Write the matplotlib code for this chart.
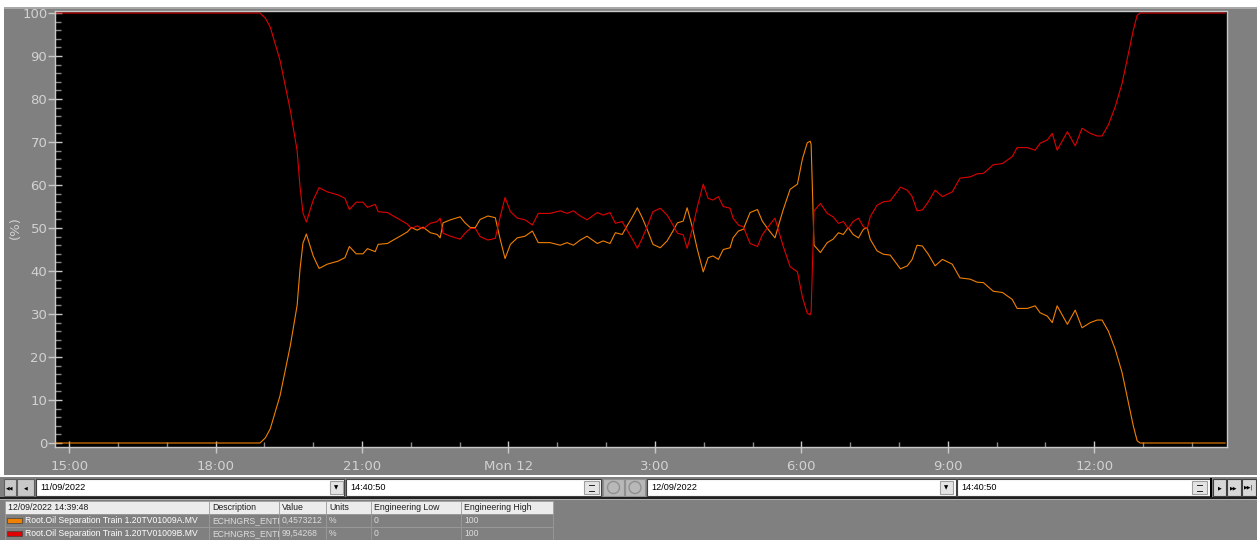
import matplotlib
matplotlib.use('Agg')
import matplotlib.pyplot as plt
from matplotlib.patches import Rectangle, Circle
from matplotlib.ticker import MultipleLocator, FixedLocator

plt.rcParams['font.family'] = ['DejaVu Sans']

W, H = 1257, 540

# trend samples, time in hours from 11/09/2022 00:00
hours = [14.68, 18.91, 19.02, 19.12, 19.32, 19.53, 19.67, 19.73, 19.79, 19.86,
         20.00, 20.12, 20.29, 20.51, 20.65, 20.74, 20.88, 21.02, 21.11, 21.27,
         21.33, 21.52, 21.64, 21.78, 21.93, 22.01, 22.13, 22.25, 22.40, 22.54,
         22.60, 22.66, 22.81, 23.01, 23.11, 23.22, 23.32, 23.42, 23.58, 23.73,
         23.83, 23.93, 24.04, 24.18, 24.34, 24.49, 24.61, 24.85, 25.06, 25.20,
         25.33, 25.47, 25.61, 25.82, 25.94, 26.08, 26.19, 26.33, 26.43, 26.53,
         26.64, 26.74, 26.84, 26.96, 27.11, 27.25, 27.37, 27.46, 27.58, 27.66,
         27.76, 27.87, 27.99, 28.09, 28.19, 28.30, 28.40, 28.54, 28.60, 28.71,
         28.81, 28.95, 29.10, 29.20, 29.32, 29.46, 29.53, 29.63, 29.77, 29.92,
         30.02, 30.12, 30.18, 30.20, 30.26, 30.39, 30.53, 30.65, 30.76, 30.86,
         30.96, 31.06, 31.17, 31.27, 31.35, 31.41, 31.55, 31.68, 31.82, 32.03,
         32.17, 32.27, 32.37, 32.48, 32.60, 32.74, 32.89, 33.09, 33.25, 33.46,
         33.60, 33.73, 33.93, 34.12, 34.32, 34.42, 34.63, 34.79, 34.89, 35.04,
         35.14, 35.24, 35.45, 35.61, 35.75, 35.92, 36.06, 36.16, 36.29, 36.43,
         36.57, 36.70, 36.80, 36.88, 36.94, 38.68]

# 1.20TV01009A.MV (%)
valve_a = [0, 0, 1.2, 3.3, 11, 22.6, 32, 40.5, 46.5, 48.6,
           43.5, 40.6, 41.6, 42.3, 43.1, 45.7, 44, 44, 45.2, 44.5,
           46.2, 46.4, 47.2, 48.1, 49.1, 50.1, 49.5, 50.2, 48.9, 48.5,
           47.7, 51.2, 51.9, 52.6, 51.2, 50.1, 50.1, 52, 52.8, 52.4,
           47.4, 42.9, 46.2, 47.7, 48.1, 49.3, 46.6, 46.6, 46, 46.6,
           46, 47.2, 48.1, 46.4, 47, 46.4, 48.9, 48.5, 50.5, 52.4,
           54.7, 52.4, 49.7, 46.2, 45.4, 47, 49.3, 51.2, 51.6, 54.7,
           50.5, 45, 39.8, 43.1, 43.5, 42.7, 45, 45.4, 47.7, 49.3,
           49.7, 53.6, 54.3, 51.6, 49.7, 47.7, 50.5, 54.3, 59, 60.2,
           66, 69.8, 70.2, 69.5, 46, 44.3, 46.6, 47.4, 48.9, 48.5,
           50.1, 48.5, 47.7, 49.7, 50.1, 47.4, 44.7, 43.9, 43.7, 40.5,
           41.2, 42.7, 46, 45.8, 43.9, 41.2, 42.7, 41.6, 38.4, 38.1,
           37.4, 37.3, 35.3, 35, 33.4, 31.3, 31.3, 31.9, 30.3, 29.5,
           28, 31.9, 27.6, 30.9, 26.8, 28, 28.6, 28.6, 26, 21.8,
           16.4, 9.4, 4, 0.5, 0, 0]

# 1.20TV01009B.MV (%)
valve_b = [100, 100, 98.8, 96.7, 89, 77.4, 68, 59.5, 53.5, 51.4,
           56.5, 59.4, 58.4, 57.7, 56.9, 54.3, 56, 56, 54.8, 55.5,
           53.8, 53.6, 52.8, 51.9, 50.9, 49.9, 50.5, 49.8, 51.1, 51.5,
           52.3, 48.8, 48.1, 47.4, 48.8, 49.9, 49.9, 48, 47.2, 47.6,
           52.6, 57.1, 53.8, 52.3, 51.9, 50.7, 53.4, 53.4, 54, 53.4,
           54, 52.8, 51.9, 53.6, 53, 53.6, 51.1, 51.5, 49.5, 47.6,
           45.3, 47.6, 50.3, 53.8, 54.6, 53, 50.7, 48.8, 48.4, 45.3,
           49.5, 55, 60.2, 56.9, 56.5, 57.3, 55, 54.6, 52.3, 50.7,
           50.3, 46.4, 45.7, 48.4, 50.3, 52.3, 49.5, 45.7, 41, 39.8,
           34, 30.2, 29.8, 30.5, 54, 55.7, 53.4, 52.6, 51.1, 51.5,
           49.9, 51.5, 52.3, 50.3, 49.9, 52.6, 55.3, 56.1, 56.3, 59.5,
           58.8, 57.3, 54, 54.2, 56.1, 58.8, 57.3, 58.4, 61.6, 61.9,
           62.6, 62.7, 64.7, 65, 66.6, 68.7, 68.7, 68.1, 69.7, 70.5,
           72, 68.1, 72.4, 69.1, 73.2, 72, 71.4, 71.4, 74, 78.2,
           83.6, 90.6, 96, 99.5, 100, 100]

tick_hours = [15, 18, 21, 24, 27, 30, 33, 36]
tick_labels = ['15:00', '18:00', '21:00', 'Mon 12', '3:00', '6:00', '9:00', '12:00']

tag_names = ['Root.Oil Separation Train 1.20TV01009A.MV',
             'Root.Oil Separation Train 1.20TV01009B.MV']
descriptions = ['ECHNGRS_ENTR', 'ECHNGRS_ENTR']
current_values = ['0,4573212', '99,54268']
units = ['%', '%']
eng_low = ['0', '0']
eng_high = ['100', '100']
header = ['12/09/2022 14:39:48', 'Description', 'Value', 'Units',
          'Engineering Low', 'Engineering High']
col_edges = [5, 209, 279, 326, 371, 461, 553]

orange = '#f08000'
red = '#e00000'
gray = '#808080'
light = '#d2d2d2'

fig = plt.figure(figsize=(W / 100, H / 100), dpi=100, facecolor=gray)

# pixel-space layer for the window chrome
ui = fig.add_axes([0, 0, 1, 1])
ui.set_xlim(0, W)
ui.set_ylim(H, 0)
ui.axis('off')
ui.set_zorder(0)


def box(x0, y0, x1, y1, fc, ec='none', lw=0.8, z=1):
    r = Rectangle((x0, y0), x1 - x0, y1 - y0, facecolor=fc, edgecolor=ec,
                  linewidth=lw, zorder=z)
    ui.add_patch(r)
    return r


# white frame on top/left
box(0, 0, W, 7, 'white')
box(0, 0, 4, 475, 'white')
box(4, 7, W, 9, '#a8a8a8')
box(0, 475, W, 477, 'white')

ui.text(15, 228, '(%)', rotation=90, ha='center', va='center',
        color=light, fontsize=9.5)

# navigation bar
fs_small = 6.6
box(4, 479, 16, 496, '#c8c8c8', '#606060')
ui.text(10, 487.5, '◀◀', ha='center', va='center', fontsize=3.5, color='black')
box(17, 479, 34, 496, '#c8c8c8', '#606060')
ui.text(25.5, 487.5, '◀', ha='center', va='center', fontsize=3.5, color='black')


def field(x0, x1, text, drop_x=None, spin_x=None):
    box(x0, 479, x1, 496, 'white', '#404040')
    ui.text(x0 + 4, 487.5, text, ha='left', va='center', fontsize=fs_small,
            color='black', family='Liberation Sans', zorder=3)
    if drop_x is not None:
        box(drop_x, 481, drop_x + 13, 494, '#e4e4e4', '#a0a0a0', z=2)
        ui.text(drop_x + 6.5, 487.5, '▼', ha='center', va='center',
                fontsize=4, color='black', zorder=3)
    if spin_x is not None:
        box(spin_x, 481, spin_x + 15, 494, '#e4e4e4', '#a0a0a0', z=2)
        ui.plot([spin_x + 5, spin_x + 10], [485, 485], color='black', lw=0.6, zorder=3)
        ui.plot([spin_x + 5, spin_x + 10], [490.5, 490.5], color='black', lw=0.6, zorder=3)


field(36, 344, '11/09/2022', drop_x=330)
field(346, 601, '14:40:50', spin_x=584)
box(603, 479, 624, 496, '#b8b8b8', '#909090')
box(625, 479, 645, 496, '#b8b8b8', '#909090')
ui.add_patch(Circle((613.5, 487.5), 6, facecolor='none', edgecolor='#909090', lw=1, zorder=2))
ui.add_patch(Circle((635, 487.5), 6, facecolor='none', edgecolor='#909090', lw=1, zorder=2))
field(647, 956, '12/09/2022', drop_x=940)
field(957, 1210, '14:40:50', spin_x=1192)
box(1210, 478, 1212, 497, 'black')
for x0, x1, glyph in [(1213, 1226, '▶'), (1227, 1241, '▶▶'), (1242, 1256, '▶▶|')]:
    box(x0, 479, x1, 496, '#d8d8d8', '#404040')
    ui.text((x0 + x1) / 2, 487.5, glyph, ha='center', va='center',
            fontsize=3.5, color='black')
box(0, 497, W, 499, '#202020')
box(0, 499, W, 500, '#b0b0b0')

# trend legend table
for i, txt in enumerate(header):
    box(col_edges[i], 501, col_edges[i + 1], 514, '#ececec', '#a0a0a0', lw=0.6)
    ui.text(col_edges[i] + 3, 507.5, txt, ha='left', va='center', fontsize=6.3,
            color='#202020', family='Liberation Sans', zorder=3)

rows = list(zip(tag_names, descriptions, current_values, units, eng_low, eng_high))
for r, row in enumerate(rows):
    y0 = 514 + 13 * r
    for i, txt in enumerate(row):
        cell = box(col_edges[i], y0, col_edges[i + 1], y0 + 13, gray, '#9a9a9a', lw=0.6)
        x = col_edges[i] + 3 if i > 0 else col_edges[i] + 20
        t = ui.text(x, y0 + 6.5, txt, ha='left', va='center', fontsize=6.2,
                    color='white' if i == 0 else '#dcdcdc',
                    family='Liberation Sans', zorder=3, clip_on=True)
        t.set_clip_path(cell)
    box(7, y0 + 4, 22, y0 + 9, [orange, red][r], '#404040', lw=0.5, z=3)

# trend plot
ax = fig.add_axes([55 / W, (H - 447) / H, (1227 - 55) / W, (447 - 11) / H])
ax.set_zorder(1)
ax.set_facecolor('black')
ax.plot(hours, valve_a, color=orange, lw=0.8)
ax.plot(hours, valve_b, color=red, lw=0.8)

ax.set_xlim(14.71, 38.72)
ax.set_ylim(-0.93, 100.47)

ax.yaxis.set_major_locator(MultipleLocator(10))
ax.yaxis.set_minor_locator(MultipleLocator(2))
ax.xaxis.set_major_locator(FixedLocator(tick_hours))
ax.set_xticklabels(tick_labels)
ax.xaxis.set_minor_locator(MultipleLocator(1))

ax.tick_params(axis='y', which='major', direction='inout', length=10, width=1,
               color='#c8c8c8', labelcolor=light, labelsize=9.5, pad=0.5)
ax.tick_params(axis='y', which='minor', direction='in', length=4.5, width=1,
               color='#8a8a8a')
ax.tick_params(axis='x', which='major', direction='inout', length=9, width=1,
               color='#c8c8c8', labelcolor=light, labelsize=9.5, pad=5)
ax.tick_params(axis='x', which='minor', direction='in', length=3.5, width=1,
               color='#8a8a8a')
for s in ax.spines.values():
    s.set_color('#c8c8c8')
    s.set_linewidth(1)
ax.spines['right'].set_linestyle((0, (1, 1)))

fig.savefig('out.png', dpi=100, facecolor=gray)
